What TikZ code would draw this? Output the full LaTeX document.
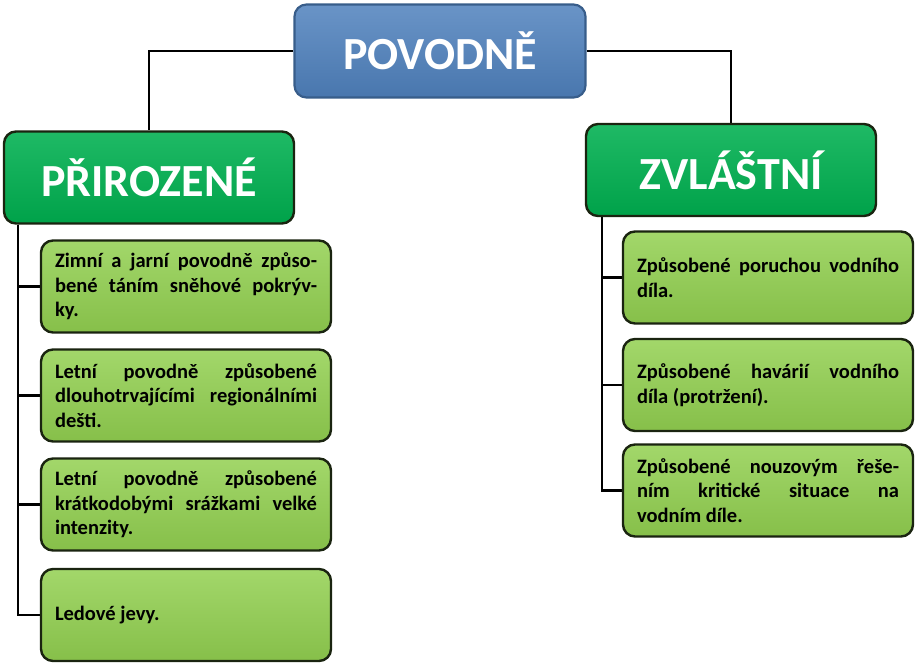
\documentclass[tikz,border=0pt]{standalone}
\usepackage{fontspec}
\setmainfont{Carlito}
\usetikzlibrary{backgrounds}
\definecolor{topblue}{HTML}{4F81BD}
\definecolor{topblueline}{HTML}{385D8A}
\definecolor{headgreen}{HTML}{00B050}
\definecolor{itemgreen}{HTML}{92D050}
\definecolor{boxline}{HTML}{1A2410}
\newcommand\HeadFont{\fontsize{46}{50}\selectfont\bfseries}
\newcommand\ItemFont{\fontsize{20.5}{24.5}\selectfont\bfseries}

\begin{document}
\begin{tikzpicture}[x=1pt,y=-1pt,
    rootbox/.style={draw=topblueline,line width=2.2pt,rounded corners=12pt,
        top color=topblue!85!white,bottom color=topblue!92!black,
        minimum width=291pt,minimum height=93pt,text=white,font=\HeadFont},
    headbox/.style={draw=boxline,line width=2.4pt,rounded corners=12pt,
        top color=headgreen!88!white,bottom color=headgreen!92!black,
        minimum width=290pt,minimum height=92pt,text=white,font=\HeadFont},
    itembox/.style={draw=boxline,line width=2.4pt,rounded corners=12pt,
        top color=itemgreen!85!white,bottom color=itemgreen!92!black,
        minimum width=290pt,minimum height=92pt,inner xsep=14pt,
        text width=262pt,align=justify,font=\ItemFont},
    link/.style={draw=black,line width=2.6pt}]
        \useasboundingbox (0,0) rectangle (918,665);
        % top level
        \node[rootbox] (povodne) at (440,51) {POVODNĚ};
        \node[headbox] (prir) at (149,177.5) {PŘIROZENÉ};
        \node[headbox] (zvl) at (731,170) {ZVLÁŠTNÍ};
        % left column
        \node[itembox] (l1) at (186,286.5) {Zimní a jarní povodně způso-\linebreak bené táním sněhové pokrýv-\linebreak ky.};
        \node[itembox] (l2) at (186,395.5) {Letní povodně způsobené\linebreak dlouhotrvajícími regionálními\linebreak dešti.};
        \node[itembox] (l3) at (186,504.5) {Letní povodně způsobené\linebreak krátkodobými srážkami velké\linebreak intenzity.};
        \node[itembox] (l4) at (186,615) {Ledové jevy.};
        % right column
        \node[itembox] (r1) at (768,277.5) {Způsobené poruchou vodního\linebreak díla.};
        \node[itembox] (r2) at (768,385) {Způsobené havárií vodního\linebreak díla (protržení).};
        \node[itembox] (r3) at (768,490.5) {Způsobené nouzovým řeše-\linebreak ním kritické situace na\linebreak vodním díle.};
        % connectors
        \coordinate (ltrunk) at ([xshift=15pt]prir.south west);
        \coordinate (rtrunk) at ([xshift=17pt]zvl.south west);
        \begin{scope}[on background layer]
        \draw[link] (povodne.west) -| (prir.north);
        \draw[link] (povodne.east) -| (zvl.north);
        \foreach \n in {l1,l2,l3,l4} \draw[link] (ltrunk) |- (\n.west);
        \foreach \n in {r1,r2,r3} \draw[link] (rtrunk) |- (\n.west);
        \end{scope}
    \end{tikzpicture}
\end{document}
